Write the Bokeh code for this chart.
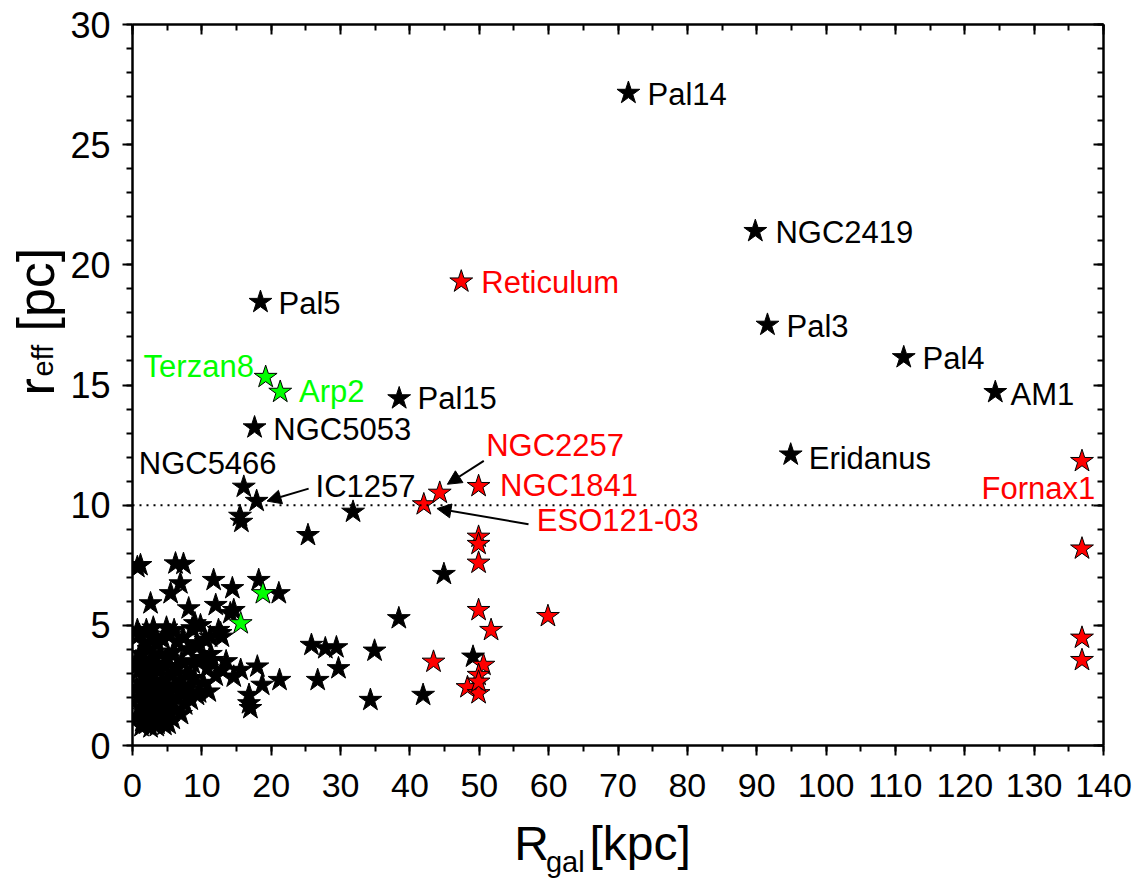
import math
from bokeh.plotting import figure
from bokeh.layouts import row, column
from bokeh.models import (LinearAxis, SingleIntervalTicker, Span, Arrow, NormalHead, Range1d)
from bokeh.core.properties import value
from bokeh.embed import file_html
from bokeh.resources import INLINE

# ---------------- data ----------------
# Milky Way globular clusters (black)
mw_r = [71.5, 89.8, 18.45, 91.55, 111.2, 124.4, 94.9, 38.45, 17.6, 16.05, 17.9, 15.5, 15.7,
        31.8, 25.3, 44.9, 38.4, 25.8, 27.8, 29.4, 34.9, 29.7, 26.7, 34.3, 41.9, 49.1,
        18.2, 21.1, 14.4, 14.6, 21.2, 18.0, 15.6, 18.7, 16.8, 16.8, 17.0,
        1.15, 0.7, 6.2, 7.35, 6.9, 5.5, 11.7, 2.6, 8.1, 12.0, 14.1, 9.0, 8.6, 11.2, 12.7,
        9.3, 12.9, 10.3, 9.3, 11.0, 14.6, 12.9, 12.4, 9.8, 11.5, 10.8,
        0.6, 0.8, 0.9, 1.0, 1.1, 1.2, 1.3, 1.4, 1.5, 1.6, 1.7, 1.8, 1.9, 2.0, 2.1, 2.2,
        2.3, 2.4, 2.5, 2.6, 2.7, 2.8, 2.9, 3.0, 3.1, 3.2, 3.3, 3.4, 3.5, 3.6, 3.7, 3.8,
        3.9, 4.0, 4.1, 4.2, 4.3, 4.4, 4.5, 4.6, 4.7, 4.8, 5.0, 5.1, 5.2, 5.4, 5.5, 5.6,
        5.8, 5.9, 6.0, 6.2, 6.3, 6.5, 6.6, 6.8, 7.0, 7.1, 7.3, 7.5, 7.6, 7.8, 8.0, 8.2,
        8.4, 8.7, 8.9, 9.3, 9.6, 9.9, 10.2, 10.5, 11.3, 12.0, 13.5, 0.5, 0.7, 1.3, 2.6,
        3.5, 4.6, 5.2, 0.6, 1.0, 2.0, 3.0, 4.9, 6.0]
mw_reff = [27.15, 21.4, 18.45, 17.5, 16.15, 14.7, 12.1, 14.44, 13.23, 10.76, 10.17, 9.55, 9.3,
           9.72, 8.75, 7.13, 5.29, 4.18, 4.04, 4.08, 3.94, 3.21, 2.72, 1.89, 2.1, 3.69,
           6.88, 6.33, 6.54, 5.63, 2.72, 3.28, 3.14, 2.52, 2.1, 1.75, 1.55,
           7.5, 7.42, 7.57, 7.55, 6.74, 6.33, 6.88, 5.91, 5.7, 5.84, 5.5, 5.08, 4.87, 4.52, 4.67,
           4.25, 3.14, 3.63, 2.1, 2.24, 2.86, 4.52, 4.8, 5.0, 3.55, 3.21,
           1.2, 2.0, 3.1, 4.6, 1.6, 2.6, 3.8, 1.0, 2.2, 4.3, 1.4, 3.3, 2.8, 0.9, 1.9, 3.0,
           4.0, 1.3, 2.4, 3.6, 1.7, 2.9, 4.5, 1.1, 2.1, 3.4, 1.5, 2.6, 4.2, 0.9, 1.9, 3.1,
           2.3, 1.2, 3.8, 2.7, 1.6, 4.4, 2.0, 3.3, 1.0, 2.5, 1.4, 3.6, 2.2, 4.6, 1.8, 2.9,
           1.1, 3.9, 2.4, 1.5, 3.2, 4.3, 2.0, 2.7, 1.3, 3.5, 4.5, 2.3, 1.7, 3.0, 4.0, 2.5,
           1.9, 3.4, 2.8, 4.1, 2.2, 3.6, 2.6, 4.4, 3.8, 2.9, 3.5, 3.5, 4.8, 0.8, 0.75,
           0.8, 0.85, 0.9, 2.4, 3.4, 4.8, 4.9, 4.9, 4.8]

# Magellanic Cloud / Fornax clusters (red)
ext_r = [47.4, 42.0, 44.3, 49.9, 49.9, 49.9, 49.9, 49.9, 59.9, 51.7, 43.4, 50.6, 49.9,
         48.3, 49.9, 49.9, 136.9, 136.9, 136.9, 136.9]
ext_reff = [19.3, 10.03, 10.51, 10.79, 8.68, 8.38, 7.6, 5.63, 5.38, 4.8, 3.48, 3.35, 2.93,
            2.42, 2.17, 2.65, 11.83, 8.19, 4.48, 3.55]

# Sagittarius clusters (green)
sgr_r = [19.2, 21.3, 18.8, 15.6]
sgr_reff = [15.33, 14.71, 6.33, 5.08]

limit_reff = 10

FONT = "Liberation Sans"
LBL = "31px"
YW = 66  # width of the strip that holds the vertical axis title

p = figure(width=1137 - YW, height=819, x_range=Range1d(0, 140), y_range=Range1d(0, 30),
           output_backend="svg", toolbar_location=None,
           x_axis_location=None, y_axis_location=None,
           min_border_left=132 - YW, min_border_right=34, min_border_top=24, min_border_bottom=74)
p.outline_line_color = None
p.background_fill_color = "white"
p.border_fill_color = "white"
for g in p.grid:
    g.visible = False

def mk_axis(interval, minor, labels, outward):
    ax = LinearAxis(ticker=SingleIntervalTicker(interval=interval, num_minor_ticks=minor))
    ax.axis_line_width = 2.5
    ax.axis_line_color = "black"
    ax.major_tick_line_width = 2
    ax.minor_tick_line_width = 2
    if outward:
        ax.major_tick_out, ax.major_tick_in = 10, 0
        ax.minor_tick_out, ax.minor_tick_in = 6, 0
    else:
        ax.major_tick_out, ax.major_tick_in = 0, 10
        ax.minor_tick_out, ax.minor_tick_in = 0, 6
    if not labels:
        ax.major_label_text_font_size = "0px"
        ax.major_label_text_color = None
        ax.major_label_standoff = 0
    return ax

xb = mk_axis(10, 2, True, True)
xb.major_label_text_font = FONT
xb.major_label_text_font_size = "34px"
xb.major_label_standoff = 18
xb.major_label_text_color = "black"
p.add_layout(xb, "below")

yl = mk_axis(5, 5, True, True)
yl.major_label_text_font = FONT
yl.major_label_text_font_size = "36px"
yl.major_label_standoff = 12
yl.major_label_text_color = "black"
p.add_layout(yl, "left")

p.add_layout(mk_axis(10, 2, False, False), "above")
p.add_layout(mk_axis(5, 5, False, False), "right")

p.add_layout(Span(location=limit_reff, dimension="width", line_color="black",
                  line_width=2, line_dash="2 5"))

p.scatter(mw_r, mw_reff, marker="star", size=24, fill_color="black", line_color="black", line_width=1)
p.scatter(ext_r, ext_reff, marker="star", size=24, fill_color="#ff0000", line_color="black", line_width=1)
p.scatter(sgr_r, sgr_reff, marker="star", size=24, fill_color="#00ff00", line_color="black", line_width=1)

# point labels
black_lbl = dict(x=[74.25, 92.7, 21.05, 94.3, 113.9, 126.6, 97.5, 41.1, 20.3, 0.9, 26.4],
                 y=[27.1, 21.35, 18.4, 17.45, 16.1, 14.6, 11.95, 14.44, 13.15, 11.73, 10.76],
                 t=["Pal14", "NGC2419", "Pal5", "Pal3", "Pal4", "AM1", "Eridanus", "Pal15",
                    "NGC5053", "NGC5466", "IC1257"])
red_lbl = dict(x=[50.3, 51.0, 53.0, 58.3], y=[19.25, 12.5, 10.8, 9.38],
               t=["Reticulum", "NGC2257", "NGC1841", "ESO121-03"])
p.text(x=black_lbl["x"], y=black_lbl["y"], text=black_lbl["t"], text_font=value(FONT),
       text_font_size=LBL, text_color="black", text_baseline="middle", text_align="left")
p.text(x=red_lbl["x"], y=red_lbl["y"], text=red_lbl["t"], text_font=value(FONT),
       text_font_size=LBL, text_color="#ff0000", text_baseline="middle", text_align="left")
p.text(x=[138.8], y=[10.7], text=["Fornax1"], text_font=value(FONT),
       text_font_size=LBL, text_color="#ff0000", text_baseline="middle", text_align="right")
p.text(x=[17.5], y=[15.75], text=["Terzan8"], text_font=value(FONT),
       text_font_size=LBL, text_color="#00ff00", text_baseline="middle", text_align="right")
p.text(x=[24.0], y=[14.71], text=["Arp2"], text_font=value(FONT),
       text_font_size=LBL, text_color="#00ff00", text_baseline="middle", text_align="left")

for xs, ys, xe, ye in [(25.4, 10.69, 19.4, 10.17), (50.65, 11.84, 45.4, 10.87), (57.1, 9.21, 43.9, 9.86)]:
    p.add_layout(Arrow(end=NormalHead(size=14, fill_color="black", line_color="black", line_width=1),
                       x_start=xs, y_start=ys, x_end=xe, y_end=ye, line_width=2, line_color="black"))

# ---------------- axis titles (separate strips; coordinates in pixels) ----------------
def strip(w, h):
    f = figure(width=w, height=h, x_range=Range1d(0, w), y_range=Range1d(0, h),
               output_backend="svg", toolbar_location=None,
               x_axis_location=None, y_axis_location=None,
               min_border=0, min_border_left=0, min_border_right=0,
               min_border_top=0, min_border_bottom=0)
    f.outline_line_color = None
    for g in f.grid:
        g.visible = False
    return f

TS = "48px"
SS = "29px"

xt = strip(1137 - YW, 60)
xt.text(x=[427 - (YW - 60)], y=[36], text=["R"], text_font=value(FONT), text_font_size=TS,
        text_color="black", text_baseline="alphabetic", text_align="left")
xt.text(x=[462 - (YW - 60)], y=[18], text=["gal"], text_font=value(FONT), text_font_size=SS,
        text_color="black", text_baseline="alphabetic", text_align="left")
xt.text(x=[510 - (YW - 60)], y=[36], text=["[kpc]"], text_font=value(FONT), text_font_size=TS,
        text_color="black", text_baseline="alphabetic", text_align="left")

TSY = "52px"
yt = strip(YW, 879)
yt.text(x=[35], y=[484], text=["r"], angle=math.pi / 2, text_font=value(FONT), text_font_size=TSY,
        text_color="black", text_baseline="alphabetic", text_align="left")
yt.text(x=[42], y=[503], text=["eff"], angle=math.pi / 2, text_font=value(FONT), text_font_size=SS,
        text_color="black", text_baseline="alphabetic", text_align="left")
yt.text(x=[35], y=[548], text=["[pc]"], angle=math.pi / 2, text_font=value(FONT), text_font_size=TSY,
        text_color="black", text_baseline="alphabetic", text_align="left")

layout = row(yt, column(p, xt, spacing=0), spacing=0)

open("out.html", "w").write(file_html(layout, INLINE))
